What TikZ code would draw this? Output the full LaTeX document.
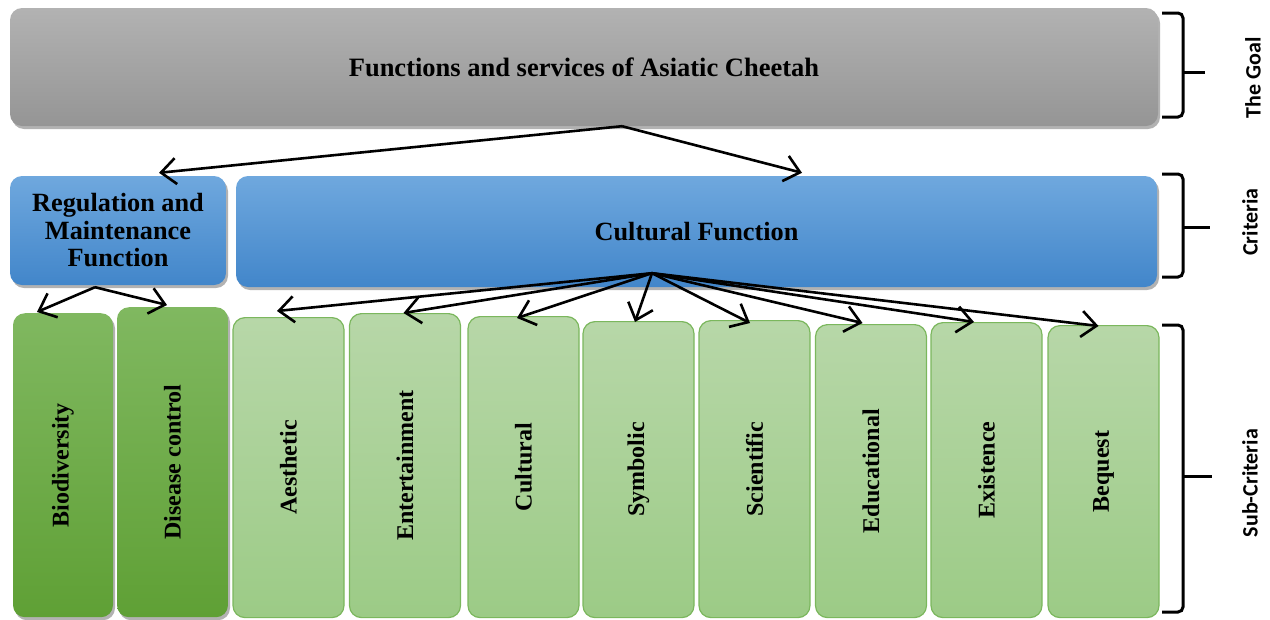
\documentclass[tikz,border=0pt]{standalone}
\usepackage{fontspec}
\setmainfont{Liberation Serif}
\newfontfamily\sidefont{Carlito}
\usetikzlibrary{calc}
\usetikzlibrary{shadows}
\usetikzlibrary{arrows.meta}

\definecolor{goaltop}{HTML}{B2B2B2}
\definecolor{goalbot}{HTML}{959595}
\definecolor{crittop}{HTML}{6FA8DE}
\definecolor{critbot}{HTML}{4286CA}
\definecolor{darktop}{HTML}{80B860}
\definecolor{darkbot}{HTML}{5FA035}
\definecolor{lighttop}{HTML}{B7D7A8}
\definecolor{lightbot}{HTML}{9CCB86}
\definecolor{lightline}{HTML}{7BB75D}

\tikzset{
  boxshadow/.style={drop shadow={shadow xshift=2pt,shadow yshift=-3pt,fill=black,opacity=0.3}},
  goalbox/.style={rounded corners=12pt,top color=goaltop,bottom color=goalbot,boxshadow,
    inner sep=0pt,align=center,font=\fontsize{26.5}{28}\selectfont\bfseries},
  critbox/.style={rounded corners=12pt,top color=crittop,bottom color=critbot,boxshadow,
    inner sep=0pt,align=center,font=\fontsize{26.3}{27.5}\selectfont\bfseries},
  darkbox/.style={rounded corners=12pt,top color=darktop,bottom color=darkbot,boxshadow,inner sep=0pt},
  lightbox/.style={rounded corners=12pt,top color=lighttop,bottom color=lightbot,draw=lightline,line width=1.2pt,inner sep=0pt},
  subtext/.style={rotate=90,font=\fontsize{24}{26}\selectfont\bfseries},
  sidelabel/.style={rotate=90,font=\sidefont\fontsize{22}{24}\selectfont\bfseries},
  link/.style={line width=2.6pt,-{Straight Barb[length=15pt,width=26pt,line width=2.6pt]}},
  bracket/.style={line width=3pt,rounded corners=5pt}
}

\begin{document}
\begin{tikzpicture}[x=1pt,y=-1pt]
    \useasboundingbox (0,0) rectangle (1270,619);

    \node[goalbox,minimum width=1148pt,minimum height=118pt] (goal) at (584,67) {Functions and services of Asiatic Cheetah};
    \node[critbox,minimum width=216pt,minimum height=109pt] (reg) at (118,230.5) {Regulation and\\Maintenance\\Function};
    \node[critbox,minimum width=921pt,minimum height=111pt] (cult) at (696.5,231.5) {Cultural Function};

    \foreach \name/\lab/\cx/\w/\ya in {bio/Biodiversity/63/100/313,dis/Disease control/172.5/111/307}{
        \node[darkbox,anchor=north,minimum width=\w pt,minimum height=617pt-\ya pt] (\name) at (\cx,\ya) {};
        \node[subtext] at (\name) {\lab};
    }
    \foreach \name/\lab/\cx/\ya in {aes/Aesthetic/288.5/317,ent/Entertainment/405/313,cul/Cultural/523.5/316,
        sym/Symbolic/638.5/321,sci/Scientific/754.5/320,edu/Educational/871/324,exi/Existence/986.5/322,beq/Bequest/1103.5/325}{
        \node[lightbox,anchor=north,minimum width=111pt,minimum height=617pt-\ya pt] (\name) at (\cx,\ya) {};
        \node[subtext] at (\name) {\lab};
    }

    \coordinate (gsrc) at ([xshift=38pt]goal.south);
    \coordinate (rsrc) at ([xshift=-23pt,yshift=-2pt]reg.south);
    \coordinate (csrc) at ([xshift=-44.5pt,yshift=14pt]cult.south);

    \draw[link] (gsrc) -- ([xshift=41pt,yshift=3pt]reg.north);
    \draw[link] (gsrc) -- ([xshift=105.5pt,yshift=3pt]cult.north);
    \draw[link] (rsrc) -- ([xshift=-26pt,yshift=1pt]bio.north);
    \draw[link] (rsrc) -- ([xshift=-5.5pt,yshift=2pt]dis.north);
    \foreach \n/\dx/\dy in {aes/-11.5/6,ent/-1.5/0,cul/-6.5/-2,sym/-3.5/-1,sci/-4.5/-3,edu/-8.5/1,exi/-12.5/0,beq/-5/-1}
        \draw[link] (csrc) -- ([xshift=\dx pt,yshift=\dy pt]\n.north);

    \draw[bracket] (1162,13) -- (1183,13) -- (1183,117) -- (1162,117);
    \draw[bracket] (1183,72) -- (1205,72);
    \draw[bracket] (1162,174) -- (1183,174) -- (1183,277) -- (1162,277);
    \draw[bracket] (1183,227) -- (1210,227);
    \draw[bracket] (1162,325) -- (1183,325) -- (1183,612) -- (1162,612);
    \draw[bracket] (1183,476) -- (1212,476);

    \node[sidelabel] (goallab) at (1253,78) {The Goal};
    \node[sidelabel] (critlab) at (1250,222) {Criteria};
    \node[sidelabel] (sublab) at (1250,483) {Sub-Criteria};
\end{tikzpicture}
\end{document}
